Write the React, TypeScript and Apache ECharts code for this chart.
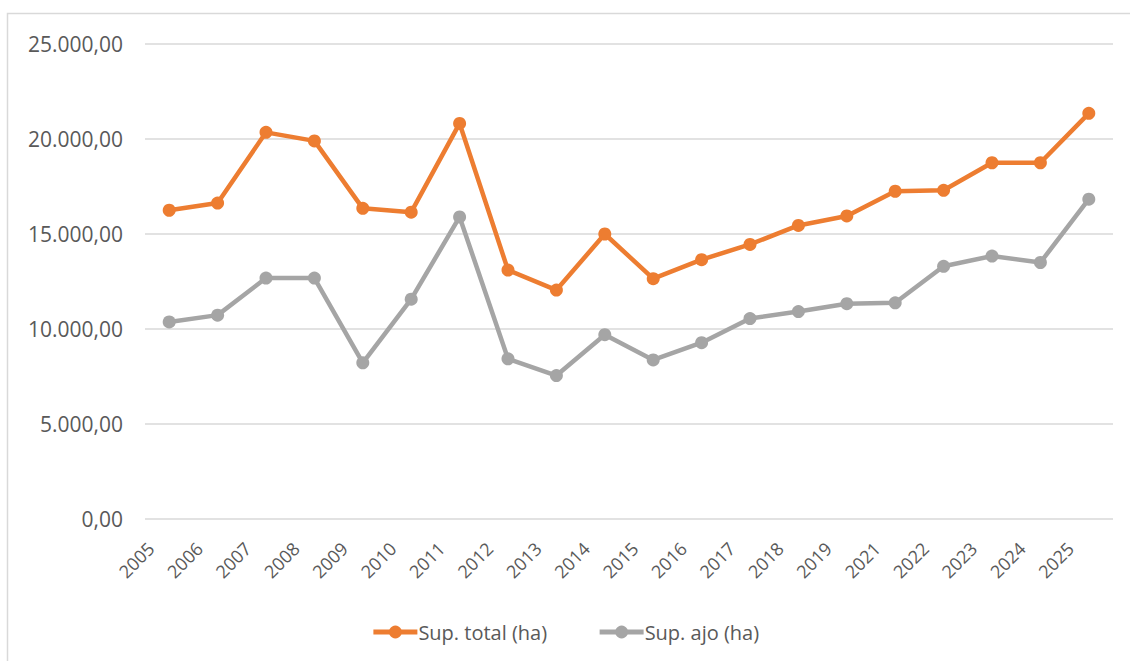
import React, { useEffect, useRef } from "react";
import * as echarts from "echarts";

const years = ["2005","2006","2007","2008","2009","2010","2011","2012","2013","2014","2015","2016","2017","2018","2019","2021","2022","2023","2024","2025"];
const supTotal = [16250, 16630, 20350, 19900, 16350, 16150, 20820, 13100, 12050, 15000, 12650, 13650, 14450, 15450, 15950, 17250, 17300, 18750, 18750, 21350];
const supAjo = [10370, 10730, 12680, 12680, 8220, 11570, 15900, 8430, 7550, 9700, 8370, 9280, 10550, 10920, 11330, 11380, 13300, 13840, 13500, 16830];
const yTicks = { min: 0, max: 25000, interval: 5000 };

function fmt(v: number): string {
  const s = Math.round(v).toString().replace(/\B(?=(\d{3})+(?!\d))/g, ".");
  return s + ",00";
}

export default function App() {
  const ref = useRef<HTMLDivElement>(null);
  useEffect(() => {
    if (!ref.current) return;
    const chart = echarts.init(ref.current, undefined, { renderer: "svg" });
    const font = "'Open Sans', 'Noto Sans', sans-serif";
    chart.setOption({
      animation: false,
      backgroundColor: "#ffffff",
      textStyle: { fontFamily: font },
      graphic: [
        {
          type: "rect",
          shape: { x: 7.5, y: 13.5, width: 1140, height: 670 },
          style: { fill: "none", stroke: "#d9d9d9", lineWidth: 1.5 },
          silent: true,
        },
      ],
      grid: { left: 145, right: 17, top: 44, bottom: 142, containLabel: false },
      legend: {
        bottom: 14,
        left: "center",
        itemWidth: 44,
        itemHeight: 16,
        itemGap: 50,
        lineStyle: { width: 5 },
        textStyle: { fontFamily: font, fontSize: 20, color: "#595959", padding: [0, 0, 0, -4] },
        data: ["Sup. total (ha)", "Sup. ajo (ha)"],
      },
      xAxis: {
        type: "category",
        data: years,
        boundaryGap: true,
        axisLine: { show: false },
        axisTick: { show: false },
        axisLabel: {
          rotate: 45,
          interval: 0,
          margin: 8,
          fontSize: 18,
          color: "#595959",
          fontFamily: font,
          padding: [0, 26, 0, 0],
        },
      },
      yAxis: {
        type: "value",
        min: yTicks.min,
        max: yTicks.max,
        interval: yTicks.interval,
        axisLine: { show: false },
        axisTick: { show: false },
        splitLine: { lineStyle: { color: "#d9d9d9", width: 1.5 } },
        axisLabel: {
          margin: 22,
          fontSize: 21,
          color: "#595959",
          fontFamily: font,
          formatter: (v: number) => fmt(v),
        },
      },
      series: [
        {
          name: "Sup. total (ha)",
          type: "line",
          data: supTotal,
          symbol: "circle",
          symbolSize: 13,
          color: "#ed7d31",
          lineStyle: { width: 4.5, color: "#ed7d31" },
          itemStyle: { color: "#ed7d31" },
        },
        {
          name: "Sup. ajo (ha)",
          type: "line",
          data: supAjo,
          symbol: "circle",
          symbolSize: 13,
          color: "#a5a5a5",
          lineStyle: { width: 4.5, color: "#a5a5a5" },
          itemStyle: { color: "#a5a5a5" },
        },
      ],
    });
    return () => chart.dispose();
  }, []);
  return (
    <div style={{ position: "fixed", left: 0, top: 0, width: 1130, height: 661, background: "#fff" }}>
      <div ref={ref} style={{ width: 1130, height: 661 }} />
    </div>
  );
}
